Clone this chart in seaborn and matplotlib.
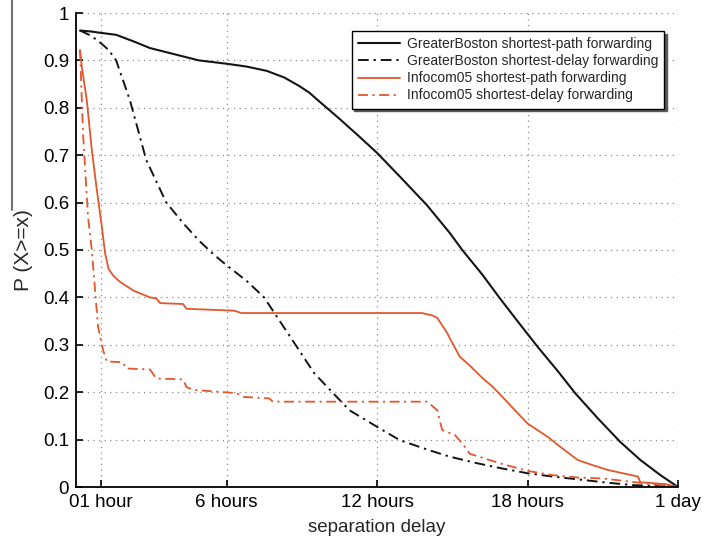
import numpy as np
import pandas as pd
import matplotlib
matplotlib.use("Agg")
import matplotlib.pyplot as plt
from matplotlib.lines import Line2D
from matplotlib.ticker import FormatStrFormatter
import seaborn as sns

# Complementary CDF of separation delay (hours) for four forwarding schemes
boston_path_h = [0.16, 0.6, 1.0, 1.6, 2.3, 2.95, 4.0, 4.9, 6.0, 6.8, 7.6, 8.3, 8.9, 9.3,
                 9.6, 10.5, 11.3, 12.0, 13.0, 14.0, 14.9, 15.4, 16.2, 16.9, 17.6, 18.4,
                 19.2, 19.9, 20.8, 21.7, 22.5, 23.3, 24.0]
boston_path_p = [0.963, 0.961, 0.958, 0.954, 0.94, 0.926, 0.912, 0.90, 0.893, 0.887, 0.878,
                 0.864, 0.846, 0.832, 0.818, 0.777, 0.739, 0.705, 0.650, 0.594, 0.536, 0.50,
                 0.448, 0.398, 0.35, 0.296, 0.245, 0.198, 0.145, 0.095, 0.057, 0.025, 0.0]

boston_delay_h = [0.16, 0.6, 1.0, 1.3, 1.6, 2.15, 2.8, 3.6, 4.3, 4.9, 5.5, 6.0, 6.8, 7.5,
                  8.0, 8.8, 9.5, 10.25, 10.9, 12.0, 12.9, 14.0, 14.9, 16.0, 16.9, 18.0,
                  19.0, 20.2, 21.2, 22.2, 23.2, 24.0]
boston_delay_p = [0.963, 0.952, 0.936, 0.922, 0.90, 0.816, 0.69, 0.60, 0.555, 0.52, 0.49,
                  0.468, 0.435, 0.40, 0.36, 0.296, 0.24, 0.198, 0.162, 0.127, 0.099, 0.079,
                  0.064, 0.05, 0.04, 0.029, 0.022, 0.015, 0.009, 0.004, 0.002, 0.0]

infocom_path_h = [0.16, 0.23, 0.43, 0.63, 0.83, 1.03, 1.16, 1.3, 1.5, 1.75, 2.3, 2.95, 3.2,
                  3.35, 4.27, 4.4, 6.3, 6.6, 10.0, 13.8, 14.2, 14.4, 14.8, 14.9, 15.3, 15.7,
                  16.2, 16.6, 17.0, 17.5, 18.0, 18.4, 18.8, 19.3, 20.0, 20.6, 21.2, 22.4,
                  22.5, 23.5, 24.0]
infocom_path_p = [0.922, 0.887, 0.816, 0.711, 0.627, 0.549, 0.493, 0.46, 0.445, 0.433,
                  0.414, 0.40, 0.398, 0.388, 0.386, 0.376, 0.372, 0.367, 0.367, 0.367, 0.362,
                  0.357, 0.325, 0.314, 0.275, 0.256, 0.23, 0.212, 0.19, 0.162, 0.134, 0.12,
                  0.106, 0.085, 0.057, 0.046, 0.036, 0.022, 0.01, 0.006, 0.0]

infocom_delay_h = [0.16, 0.28, 0.48, 0.63, 0.76, 0.88, 1.08, 1.22, 1.87, 2.0, 2.95, 3.2,
                   4.27, 4.4, 4.67, 6.4, 6.67, 7.7, 7.85, 14.0, 14.4, 14.6, 15.1, 15.4, 15.7,
                   16.3, 16.9, 18.0, 19.0, 20.0, 21.0, 22.3, 23.0, 24.0]
infocom_delay_p = [0.922, 0.746, 0.57, 0.50, 0.415, 0.338, 0.289, 0.265, 0.263, 0.25, 0.248,
                   0.229, 0.227, 0.211, 0.205, 0.198, 0.19, 0.187, 0.18, 0.18, 0.162, 0.12,
                   0.11, 0.092, 0.07, 0.06, 0.05, 0.034, 0.025, 0.02, 0.018, 0.01, 0.006, 0.0]

series_labels = ["GreaterBoston shortest-path forwarding",
                 "GreaterBoston shortest-delay forwarding",
                 "Infocom05 shortest-path forwarding",
                 "Infocom05 shortest-delay forwarding"]

x_ticks = [1, 6, 12, 18, 24]
x_tick_labels = ["01 hour", "6 hours", "12 hours", "18 hours", "1 day"]
y_ticks = [0, 0.1, 0.2, 0.3, 0.4, 0.5, 0.6, 0.7, 0.8, 0.9, 1.0]

sns.set_style("ticks")
plt.rcParams["font.family"] = ["Liberation Sans", "DejaVu Sans"]

fig = plt.figure(figsize=(7.06, 5.45), dpi=100)
ax = fig.add_axes([76 / 706, 1 - 487 / 545, (678 - 76) / 706, (487 - 13) / 545])

black = "#151515"
orange = "#E2572B"
dashdot = (0, (5.5, 2.5, 1.2, 2.5))

styles = [
    (boston_path_h, boston_path_p, black, "-", 1.5),
    (boston_delay_h, boston_delay_p, black, dashdot, 1.4),
    (infocom_path_h, infocom_path_p, orange, "-", 1.3),
    (infocom_delay_h, infocom_delay_p, orange, dashdot, 1.3),
]
for (h, p, c, ls, lw), lab in zip(styles, series_labels):
    df = pd.DataFrame({"hours": h, "prob": p})
    sns.lineplot(data=df, x="hours", y="prob", ax=ax, color=c, linestyle=ls,
                 linewidth=lw, label=lab, sort=False, estimator=None)

ax.set_xlim(0, 24)
ax.set_ylim(0, 1)
ax.set_xticks(x_ticks)
ax.set_xticklabels(x_tick_labels)
ax.set_yticks(y_ticks)
ax.yaxis.set_major_formatter(FormatStrFormatter("%g"))
ax.tick_params(direction="in", length=5, width=1.2, labelsize=13.5, pad=5,
               colors="black")
ax.grid(True, linestyle=(0, (1, 3.5)), color="#8a8a8a", linewidth=0.9)
for s in ["top", "right"]:
    ax.spines[s].set_visible(False)
for s in ["left", "bottom"]:
    ax.spines[s].set_color("black")
    ax.spines[s].set_linewidth(1.3)

ax.set_xlabel("separation delay", fontsize=13.5, labelpad=6)
ax.set_ylabel("P (X>=x)", fontsize=15, labelpad=7)

leg = ax.legend(loc="upper right", bbox_to_anchor=(0.977, 0.962), fontsize=10,
                frameon=True, fancybox=False, handlelength=3.0, handletextpad=0.5,
                labelspacing=0.22, borderpad=0.45, borderaxespad=0,
                shadow={"color": "0.35", "alpha": 1.0})
leg.get_frame().set_edgecolor("black")
leg.get_frame().set_linewidth(1.0)
leg.get_frame().set_facecolor("white")
leg.get_frame().set_alpha(1.0)

# thin rule at the upper left edge of the figure
fig.add_artist(Line2D([12 / 706, 12 / 706], [1.0, 1 - 210 / 545], color="0.45",
                      linewidth=1.5, transform=fig.transFigure))

fig.savefig("out.png", dpi=100)
